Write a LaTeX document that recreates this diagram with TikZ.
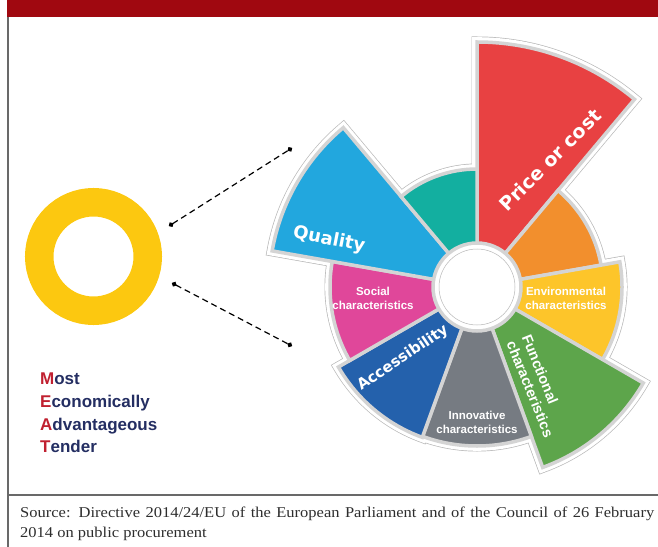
\documentclass[tikz,border=0pt]{standalone}
\usepackage{xcolor}
\usepackage{fontspec}
\setmainfont{Liberation Serif}
\newfontfamily\sourcefont[FakeStretch=1.1]{Liberation Serif}
\newfontfamily\verdfont{DejaVu Sans}
\newfontfamily\arialfont{Liberation Sans}
\usepackage{tikz}
\usetikzlibrary{arrows.meta,positioning,calc}

\definecolor{bandred}{RGB}{160,8,16}
\definecolor{framegray}{RGB}{105,105,105}
\definecolor{sourcegray}{RGB}{45,45,45}
\definecolor{ringyellow}{RGB}{252,200,16}
\definecolor{meatred}{RGB}{192,32,48}
\definecolor{meatblue}{RGB}{36,46,98}
\definecolor{secred}{RGB}{232,65,66}
\definecolor{secorange}{RGB}{242,143,45}
\definecolor{secyellow}{RGB}{253,197,42}
\definecolor{secgreen}{RGB}{93,165,75}
\definecolor{secgray}{RGB}{118,123,130}
\definecolor{secblue}{RGB}{36,97,172}
\definecolor{secpink}{RGB}{224,71,154}
\definecolor{secsky}{RGB}{34,167,222}
\definecolor{secteal}{RGB}{19,175,160}

\newcommand\meatinitial[1]{\textcolor{meatred}{#1}}

\begin{document}
\begin{tikzpicture}[
					x = 1bp, y = 1bp,
					big label/.style = {text = white, inner sep = 0,
						font = \verdfont\bfseries\fontsize{#1bp}{#1bp}\selectfont},
					small label/.style = {text = white, inner sep = 0, align = center,
						font = \arialfont\bfseries\fontsize{11.5bp}{14bp}\selectfont},
					meat text/.style = {text = meatblue, inner sep = 0, align = left,
						font = \arialfont\bfseries\fontsize{17bp}{22.7bp}\selectfont},
					source text/.style = {text = sourcegray, inner sep = 0, align = left,
						font = \sourcefont\fontsize{15bp}{19.5bp}\selectfont},
					ring/.style = {circle, draw = ringyellow, line width = 28.5bp,
						minimum size = 108.5bp, inner sep = 0},
					leader/.style = {line width = 1.2bp, dash pattern = on 6bp off 4bp,
						{Circle[length=5bp]}-{Circle[length=5bp]}}
					]

					\useasboundingbox (0,0) rectangle (658,-547);

					% frame
					\fill[bandred] (7,0) rectangle (658,-17);
					\draw[framegray, line width = 1.3bp] (8,-17) -- (8,-547);
					\draw[framegray, line width = 1.3bp] (8,-495) -- (658,-495);

					% the wheel
					\coordinate (hub) at (477,-287);
					\def\wheel{secred/50/245, secorange/10/126, secyellow/-30/145,
						secgreen/-70/192, secgray/-110/159, secblue/-150/160,
						secpink/170/147, secsky/130/208, secteal/90/118}

					\foreach \col/\a/\r in \wheel
						\draw[black!28, line width = 11bp] (hub) -- ++(\a:\r)
							arc[start angle = \a, delta angle = 40, radius = \r] -- cycle;
					\foreach \col/\a/\r in \wheel
						\draw[white, line width = 9.6bp] (hub) -- ++(\a:\r)
							arc[start angle = \a, delta angle = 40, radius = \r] -- cycle;
					\foreach \col/\a/\r in \wheel
						\filldraw[fill = \col, draw = black!17, line width = 3.5bp] (hub) -- ++(\a:\r)
							arc[start angle = \a, delta angle = 40, radius = \r] -- cycle;

					\filldraw[fill = white, draw = black!17, line width = 3.5bp] (hub) circle (44);
					\draw[black!28, line width = 0.5bp] (hub) circle (38);

					\node[big label = 19, rotate = 45] (price) at (550,-160) {Price or cost};
					\node[big label = 18, rotate = -11] (quality) at (329,-240) {Quality};
					\node[big label = 15, rotate = 34] (access) at (403,-358) {Accessibility};
					\node[small label] (social) at (373,-298) {Social\\characteristics};
					\node[small label] (enviro) at (566,-298) {Environmental\\characteristics};
					\node[small label] (innov) at (477,-422) {Innovative\\characteristics};
					\node[small label, align = left, rotate = -68,
						font = \arialfont\bfseries\fontsize{14.5bp}{16.5bp}\selectfont]
						(funct) at (538,-386) {Functional\\characteristics};

					% MEAT ring and its leaders
					\node[ring] (meat) at (93.5,-256.5) {};
					\coordinate (meatU) at (169,-226);
					\coordinate (meatL) at (172,-283);
					\coordinate (wheelU) at (292,-148);
					\coordinate (wheelL) at (292,-346);
					\draw[leader] (meatU) -- (wheelU);
					\draw[leader] (meatL) -- (wheelL);

					\node[meat text, anchor = west] (meatname) at (40,-413)
						{\meatinitial{M}ost\\ \meatinitial{E}conomically\\
						 \meatinitial{A}dvantageous\\ \meatinitial{T}ender};

					\node[source text, anchor = north west] (source) at (20,-507)
						{\makebox[634bp][s]{Source: Directive 2014/24/EU of the European Parliament and of the Council of 26 February}\\
						 2014 on public procurement};

				\end{tikzpicture}
\end{document}
